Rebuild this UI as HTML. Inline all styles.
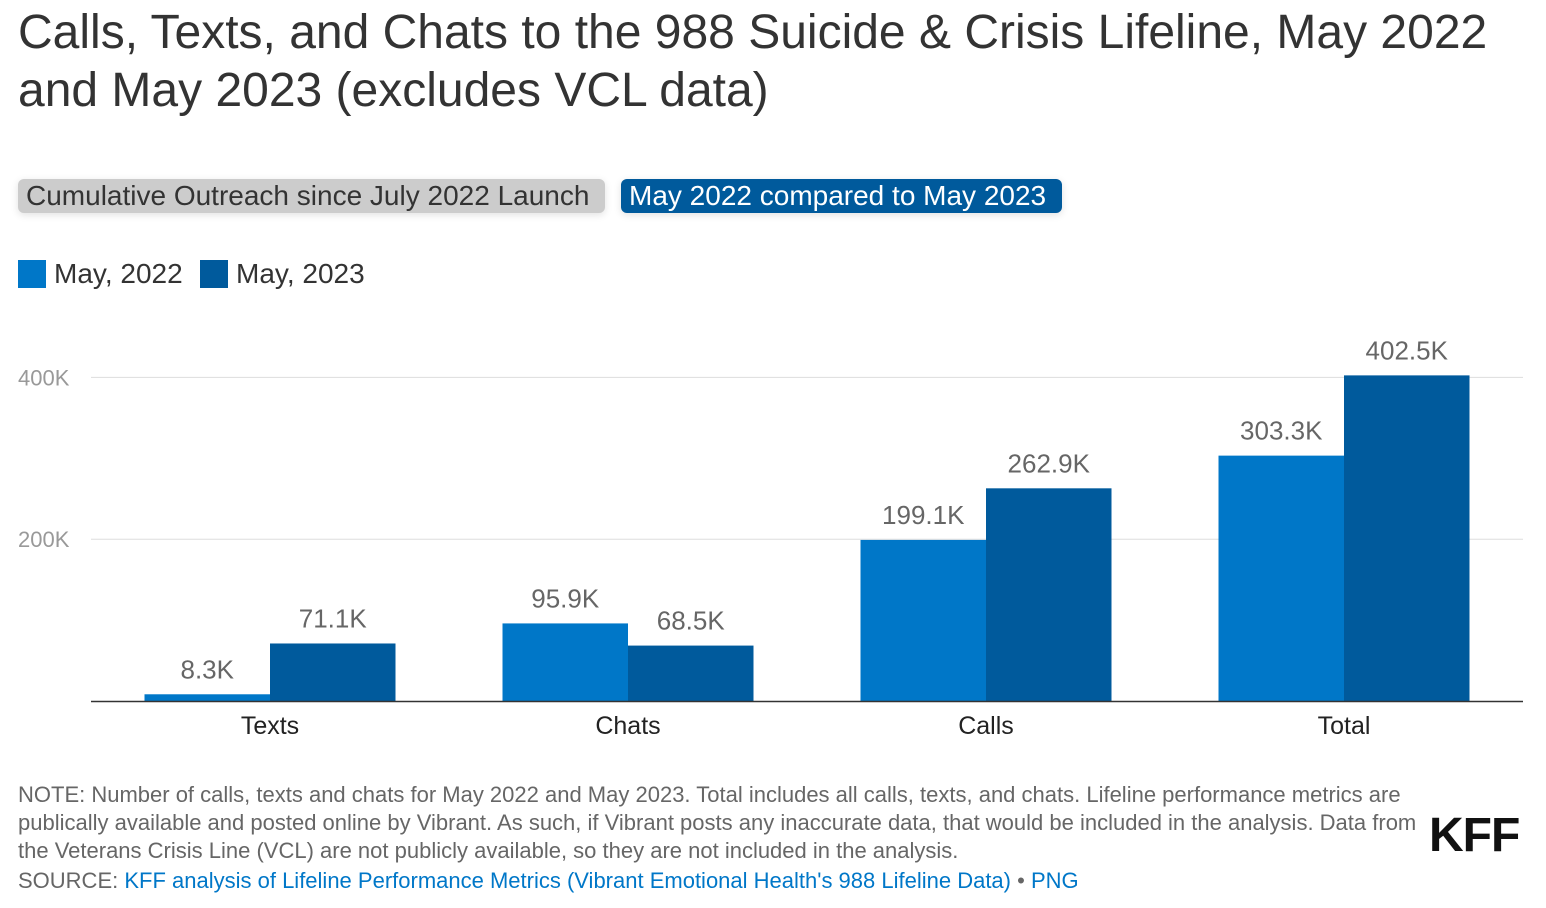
<!DOCTYPE html>
<html><head><meta charset="utf-8"><style>
body{margin:0;width:1546px;height:908px;background:#fff;font-family:"Liberation Sans",Arial,sans-serif;position:relative;overflow:hidden}
.abs{position:absolute}
h1{position:absolute;left:18px;top:4px;margin:0;font-weight:normal;font-size:48px;line-height:58px;color:#333;white-space:nowrap}
.btn{position:absolute;top:179px;height:34px;line-height:34px;font-size:28px;padding:0 8px;border-radius:6px;box-shadow:0 2px 8px rgba(0,0,0,.12);white-space:nowrap}
.leg{position:absolute;top:259px;font-size:28px;color:#333;line-height:30px}
.sw{display:inline-block;width:28px;height:28px;vertical-align:-5px;margin-right:8px}
.note{position:absolute;left:18px;top:781px;font-size:22px;line-height:28px;color:#666;white-space:nowrap}
a{color:#0077c8;text-decoration:none}
</style></head><body>
<h1>Calls, Texts, and Chats to the 988 Suicide &amp; Crisis Lifeline, May 2022<br>and May 2023 (excludes VCL data)</h1>
<div class="btn" style="left:18px;width:571px;background:#ccc;color:#333">Cumulative Outreach since July 2022 Launch</div>
<div class="btn" style="left:621px;width:425px;background:#005a9c;color:#fff">May 2022 compared to May 2023</div>
<div class="leg" style="left:18px"><span class="sw" style="background:#0077c8"></span>May, 2022</div>
<div class="leg" style="left:200px"><span class="sw" style="background:#005a9c"></span>May, 2023</div>
<svg class="abs" style="left:0;top:0" width="1546" height="908" id="chart"></svg>
<div class="note">NOTE: Number of calls, texts and chats for May 2022 and May 2023. Total includes all calls, texts, and chats. Lifeline performance metrics are<br>publically available and posted online by Vibrant. As such, if Vibrant posts any inaccurate data, that would be included in the analysis. Data from<br>the Veterans Crisis Line (VCL) are not publicly available, so they are not included in the analysis.<br><span style="display:block;margin-top:2px">SOURCE: <a>KFF analysis of Lifeline Performance Metrics (Vibrant Emotional Health's 988 Lifeline Data)</a> • <a>PNG</a></span></div>
<div class="abs" style="left:1429px;top:808px;font-size:48px;font-weight:bold;color:#111;letter-spacing:-1px">KFF</div>
<script>
const categories=["Texts","Chats","Calls","Total"];
const may2022=[8.3,95.9,199.1,303.3];
const may2023=[71.1,68.5,262.9,402.5];
const yTicks=[200,400];
const tickLabels=["200K","400K"];
const svg=document.getElementById('chart');
const NS="http://www.w3.org/2000/svg";
const x0=91,x1=1523,y0=701,yPerK=0.809;
const band=(x1-x0)/categories.length,bw=125.5;
const y=v=>y0-v*yPerK;
function mk(t,a){const e=document.createElementNS(NS,t);for(const k in a)e.setAttribute(k,a[k]);svg.appendChild(e);return e;}
yTicks.forEach((t,i)=>{
 const g=mk('line',{x1:x0,x2:x1,y1:y(t),y2:y(t),stroke:'#ddd','stroke-width':1});
 
 
 const l=mk('text',{x:18,y:y(t)+8,'font-size':22,fill:'#999','font-family':'Liberation Sans'});
 l.textContent=tickLabels[i];
 
 
});
const series=[[may2022,'#0077c8'],[may2023,'#005a9c']];
categories.forEach((c,i)=>{
 const cx=x0+band*(i+0.5);
 series.forEach(([vals,col],s)=>{
  const bx=cx-bw+s*bw;
  const r=mk('rect',{x:bx,y:y(vals[i]),width:bw,height:y0-y(vals[i]),fill:col});
  
  
  const t=mk('text',{x:bx+bw/2,y:y(vals[i])-16,'font-size':26,fill:'#666','text-anchor':'middle','font-family':'Liberation Sans'});
  t.textContent=vals[i].toFixed(1)+'K';
  
  
 });
 const cl=mk('text',{x:cx,y:734,'font-size':25,fill:'#222','text-anchor':'middle','font-family':'Liberation Sans'});
 cl.textContent=c;
 
 
});
const ax=mk('line',{x1:x0,x2:x1,y1:y0+0.5,y2:y0+0.5,stroke:'#333','stroke-width':1.5});


</script>
</body></html>
